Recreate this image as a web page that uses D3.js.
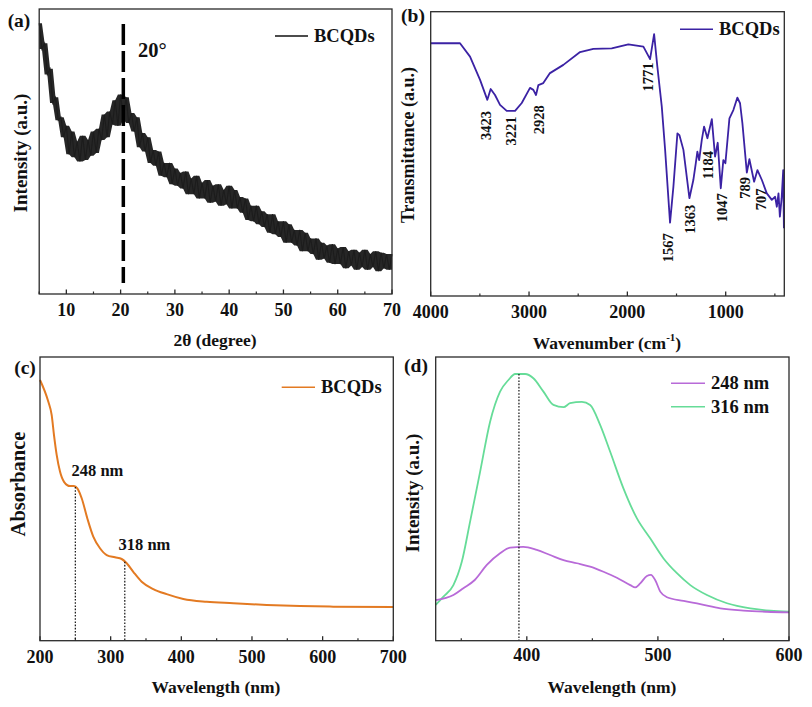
<!DOCTYPE html>
<html><head><meta charset="utf-8">
<script src="https://cdn.jsdelivr.net/npm/d3@7"></script>
<style>
html,body{margin:0;padding:0;background:#fff;}
text{font-family:"Liberation Serif","Times New Roman",serif;font-weight:bold;fill:#111;}
</style></head>
<body>
<svg id="chart" width="812" height="707"></svg>
<script>
// ---------- DATA ----------
// (a) XRD
const xrdAngle = d3.range(5, 70.01, 0.5);
const xrdIntensity = [95,86,88,77,79,67,69,61,62,55,
59,49,57,48,53.5,46.5,55.5,47,54,48.5,
57,49.5,58,54,63,55,64,59.5,68,59,
70,61.5,69,60,63.5,57,62,51.5,56.5,50,
55,46,50.5,45,50,41.5,46,41,46,38.5,
44,38,42.5,37,43,35,40.5,35,41.5,33.5,
39,33.5,40,32,38,32.5,38.5,31,36.5,31.5,
38,30,36.5,30,34,28.5,33.5,26,31,25.5,
31,24.5,29,23.5,28,21.5,28,21,25.5,20,
25.5,18,24.5,18,22.5,17,22.5,15,21.5,15,
19.5,14,19.5,12,18,12.5,17,11,17.5,10.5,
16,10.5,16.5,9,15,10,15.5,8.5,14.5,9.5,
15.5,8.5,14,9.5,15,8,14.5,9,14,8.5,
14];
const xrdTicks = [10,20,30,40,50,60,70];
const xrdMarker = 20.5;

// (b) FTIR
const ftirWavenumber = [4000,3702,3600,3498,3424,3390,3346,3295,3227,3142,3074,2990,2956,2929,2905,2855,2787,2651,2481,2346,2159,1990,1837,1769,1728,1695,1650,1616,1566,1532,1491,1471,1430,1369,1329,1304,1288,1270,1243,1220,1186,1141,1108,1081,1050,1024,1003,962,922,881,854,830,785,759,711,677,632,582,531,497,480,463,449,431,415,408];
const ftirTransmittance = [88.9,88.9,84.2,76.0,69.0,72.8,70.7,67.2,65.1,65.1,67.9,73.2,72.5,70.7,74.2,74.9,78.4,81.3,85.8,86.9,87.1,88.5,87.7,83.3,92.1,80.7,66.6,51.4,25.8,38.4,57.2,56.6,51.4,34.4,40.8,46.7,50.8,47.8,54.9,59.6,55.5,62.2,49.0,53.9,37.9,47.8,46.7,62.5,65.4,69.8,67.8,60.7,43.4,48.1,40.2,44.3,40.8,36.1,33.8,34.9,31.4,36.1,27.9,34.4,44.3,23.8];
const ftirTicks = [4000,3000,2000,1000];
const ftirPeaks = ["3423","3221","2928","1771","1567","1363","1184","1047","789","707"];
const ftirPeakPos = [3440,3185,2895,1790,1585,1362,1178,1042,800,645];
const ftirPeakY = [60,58,62,77,17,27,46,31,38,34];

// (c) UV-vis
const uvWavelength = [200,211.8,216.5,219.8,223.6,228.3,234,242.5,248.1,252.8,259,267,275.4,284.9,294.4,306.1,315.6,322.7,332,343.9,360.3,379.3,402.8,435.9,473.6,520.8,567.9,615,700];
const uvAbsorbance = [91.9,84.2,79.6,72.5,65.5,59.6,56.0,54.5,54.5,53.7,50.2,43.1,36.7,32.6,30.2,29.4,28.8,27.3,24.3,20.8,18.2,16.4,14.7,13.7,13.2,12.6,12.2,12.0,11.9];
const uvTicks = [200,300,400,500,600,700];
const uvMarks = [250,320];
const uvMarkLabels = ["248 nm","318 nm"];

// (d) PL
const plWavelength316 = [330.5,336.4,344,350.4,356.7,364.4,372,379.6,386,391.1,398.7,405,412.7,420.3,428,433,442,448.3,456,463.6,473.7,484,494.1,504.3,514.5,524.7,537.4,552.7,570.5,585.8,600];
const plIntensity316 = [12.6,15.5,19.6,27.8,41.9,59.6,77.2,87.8,91.9,94.0,94.0,92.5,87.8,83.1,82.3,83.7,84.2,83.1,76.0,66.6,53.7,43.1,36.1,29.0,23.8,19.6,16.1,13.2,11.4,10.6,10.2];
const plWavelength248 = [330.5,344,351.6,360.3,369.5,379.6,387.3,397.4,407.6,417.8,428,438.2,448.3,458.5,468.7,478.9,482.7,486.5,491.6,494.7,497.9,501.8,506.9,519.6,532.3,547.6,565.3,583.2,600];
const plIntensity248 = [14.3,16.1,18.5,21.4,26.7,30.8,32.8,33.1,32.0,30.2,28.4,27.3,26.1,24.3,22.2,19.6,18.8,20.2,22.8,23.2,21.4,17.3,15.3,14.0,12.9,11.4,10.6,10.2,10.0];
const plTicks = [400,500,600];
const plMark = 394;

// ---------- DRAW ----------
const svg = d3.select("#chart");
const AX = "#2a2a2a";

function panel(o){
  const g = svg.append("g");
  const x = d3.scaleLinear().domain(o.xd).range([o.x0, o.x1]);
  const y = d3.scaleLinear().domain([0,100]).range([o.y1, o.y0]);
  const minor = o.minor.filter(v => !o.ticks.includes(v));
  g.selectAll(".mn").data(minor).join("line")
    .attr("x1", d=>x(d)).attr("x2", d=>x(d)).attr("y1", o.y1).attr("y2", o.y1-2.5)
    .attr("stroke", AX).attr("stroke-width", 1.2);
  g.selectAll(".mj").data(o.ticks).join("line")
    .attr("x1", d=>x(d)).attr("x2", d=>x(d)).attr("y1", o.y1).attr("y2", o.y1-4.5)
    .attr("stroke", AX).attr("stroke-width", 1.3);
  g.selectAll(".tl").data(o.ticks).join("text")
    .attr("x", d=>x(d)).attr("y", o.tly).attr("text-anchor","middle").attr("dominant-baseline","central")
    .style("font-size","18px").text(d=>d);
  return {g,x,y};
}
function frame(g,o){
  g.append("rect").attr("x",o.x0).attr("y",o.y0).attr("width",o.x1-o.x0).attr("height",o.y1-o.y0)
    .attr("fill","none").attr("stroke",AX).attr("stroke-width",1.3);
}
function label(t, x, y, size, rot){
  const s = svg.append("text").attr("text-anchor","middle").attr("dominant-baseline","central")
    .style("font-size", size+"px");
  if(rot) s.attr("transform",`translate(${x},${y}) rotate(-90)`); else s.attr("x",x).attr("y",y);
  s.text(t); return s;
}
function legend(x1, x2, y, color, t){
  svg.append("line").attr("x1",x1).attr("x2",x2).attr("y1",y).attr("y2",y).attr("stroke",color).attr("stroke-width",1.6);
  svg.append("text").attr("x",x2+6).attr("y",y).attr("dominant-baseline","central").style("font-size","18.5px").text(t);
}

// (a)
const oa = {x0:39.2,x1:392,y0:9,y1:294,xd:[5,70],ticks:xrdTicks,minor:d3.range(5,70.1,5),tly:310};
const A = panel(oa);
const xrdPts = d3.zip(xrdAngle,xrdIntensity);
const n = xrdIntensity.length;
const band = xrdPts.map((p,i)=>{
  const w = xrdIntensity.slice(Math.max(0,i-1), Math.min(n,i+2));
  return [p[0], d3.min(w), d3.max(w)];
});
A.g.append("path").datum(band)
  .attr("d", d3.area().x(d=>A.x(d[0])).y0(d=>A.y(d[1])).y1(d=>A.y(d[2])))
  .attr("fill","#262626");
A.g.append("path").datum(xrdPts)
  .attr("d", d3.line().x(d=>A.x(d[0])).y(d=>A.y(d[1])))
  .attr("fill","none").attr("stroke","#1c1c1c").attr("stroke-width",1.1).attr("stroke-linejoin","miter");
A.g.append("line").attr("x1",A.x(xrdMarker)).attr("x2",A.x(xrdMarker)).attr("y1",A.y(94.7)).attr("y2",A.y(3.9))
  .attr("stroke","#000").attr("stroke-width",3.5).attr("stroke-dasharray","21,6");
frame(A.g,oa);
svg.append("text").attr("x",138).attr("y",50).attr("dominant-baseline","central").style("font-size","20.5px").text("20°");
legend(275,308,36,"#111","BCQDs");
label("2θ (degree)",215,340,17.5);
label("Intensity (a.u.)",20,153,19,true);
label("(a)",19,20,19.5);

// (b)
const ob = {x0:430.7,x1:784.3,y0:11.7,y1:296,xd:[4000,404],ticks:ftirTicks,minor:d3.range(3500,400,-500),tly:312};
const B = panel(ob);
const ftirColor = "#3b22a4";
B.g.append("path").datum(d3.zip(ftirWavenumber,ftirTransmittance))
  .attr("d", d3.line().x(d=>B.x(d[0])).y(d=>B.y(d[1])))
  .attr("fill","none").attr("stroke",ftirColor).attr("stroke-width",1.8).attr("stroke-linejoin","round");
frame(B.g,ob);
ftirPeaks.forEach((t,i)=>{
  label(t, B.x(ftirPeakPos[i]), B.y(ftirPeakY[i]), 14.5, true);
});
legend(680,713,29.3,ftirColor,"BCQDs");
const wt = svg.append("text").attr("x",607).attr("y",343).attr("text-anchor","middle").attr("dominant-baseline","central").style("font-size","17.5px");
wt.append("tspan").text("Wavenumber (cm");
wt.append("tspan").attr("dy",-6).style("font-size","11px").text("-1");
wt.append("tspan").attr("dy",6).text(")");
label("Transmittance (a.u.)",408,145,18,true);
label("(b)",413,15,19.5);

// (c)
const oc = {x0:40,x1:393.3,y0:357,y1:640.7,xd:[200,700],ticks:uvTicks,minor:d3.range(250,700,100),tly:657};
const C = panel(oc);
const uvColor = "#e37a22";
const uvLine = d3.line().curve(d3.curveMonotoneX);
C.g.append("path").datum(d3.zip(uvWavelength,uvAbsorbance))
  .attr("d", uvLine.x(d=>C.x(d[0])).y(d=>C.y(d[1])))
  .attr("fill","none").attr("stroke",uvColor).attr("stroke-width",2);
const uvInterp = w => { const i = d3.bisectLeft(uvWavelength,w); const x0=uvWavelength[i-1],x1=uvWavelength[i]; return uvAbsorbance[i-1]+(uvAbsorbance[i]-uvAbsorbance[i-1])*(w-x0)/(x1-x0); };
uvMarks.forEach((w,i)=>{
  C.g.append("line").attr("x1",C.x(w)).attr("x2",C.x(w)).attr("y1",C.y(uvInterp(w))).attr("y2",oc.y1)
    .attr("stroke","#111").attr("stroke-width",1.2).attr("stroke-dasharray","1.6,1.6");
});
svg.append("text").attr("x",71.5).attr("y",470).attr("dominant-baseline","central").style("font-size","16.5px").text(uvMarkLabels[0]);
svg.append("text").attr("x",118.5).attr("y",544).attr("dominant-baseline","central").style("font-size","16.5px").text(uvMarkLabels[1]);
frame(C.g,oc);
legend(281.7,315,387.3,uvColor,"BCQDs");
label("Wavelength (nm)",216,687,17.5);
label("Absorbance",18,484,20.5,true);
label("(c)",25,367,19.5);

// (d)
const od = {x0:435.7,x1:789,y0:357,y1:640.7,xd:[330.5,600],ticks:plTicks,minor:[350,450,550],tly:655};
const D = panel(od);
const c248 = "#b86ad8", c316 = "#66dc98";
const plLine = d3.line().curve(d3.curveMonotoneX);
D.g.append("path").datum(d3.zip(plWavelength316,plIntensity316))
  .attr("d", plLine.x(d=>D.x(d[0])).y(d=>D.y(d[1])))
  .attr("fill","none").attr("stroke",c316).attr("stroke-width",1.8);
D.g.append("path").datum(d3.zip(plWavelength248,plIntensity248))
  .attr("d", plLine.x(d=>D.x(d[0])).y(d=>D.y(d[1])))
  .attr("fill","none").attr("stroke",c248).attr("stroke-width",1.8);
D.g.append("line").attr("x1",D.x(plMark)).attr("x2",D.x(plMark)).attr("y1",D.y(94)).attr("y2",od.y1)
  .attr("stroke","#111").attr("stroke-width",1.2).attr("stroke-dasharray","1.6,1.6");
frame(D.g,od);
legend(671,705,383.3,c248,"248 nm");
legend(671,705,406.7,c316,"316 nm");
label("Wavelength (nm)",612,687,17.5);
label("Intensity (a.u.)",412,493,19,true);
label("(d)",416,365,19.5);
</script>
</body></html>
